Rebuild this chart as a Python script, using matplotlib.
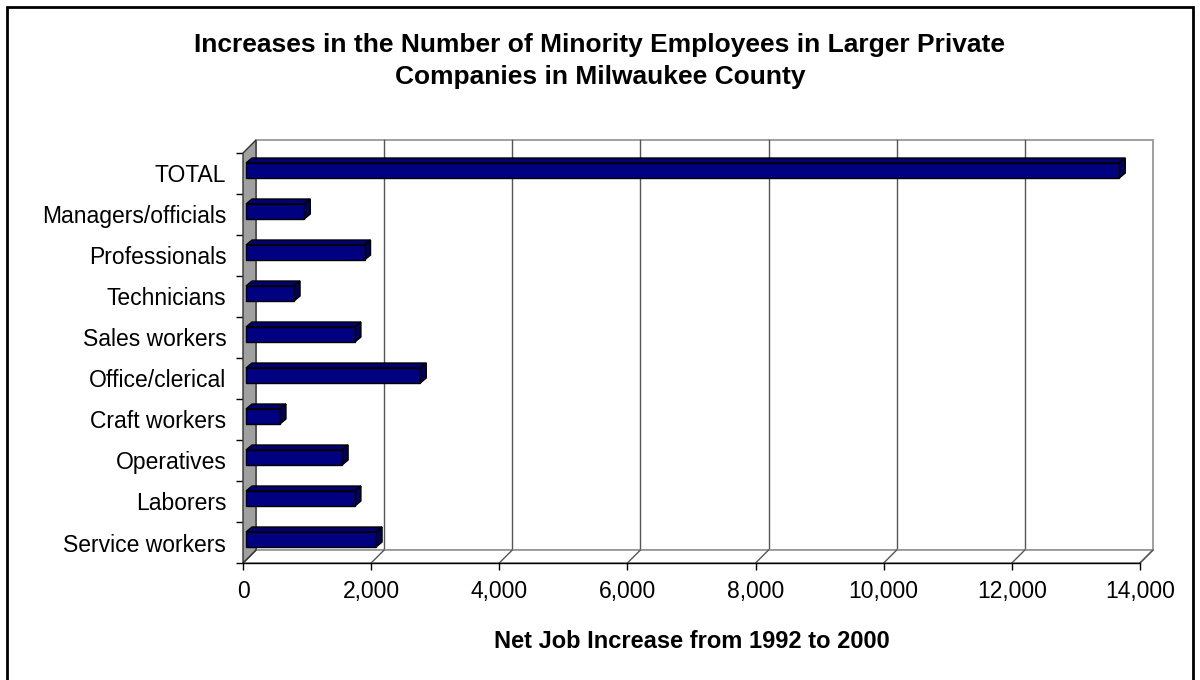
import matplotlib
matplotlib.use('Agg')
import matplotlib.pyplot as plt
from matplotlib.patches import Rectangle, Polygon

plt.rcParams['font.family'] = ['Liberation Sans', 'DejaVu Sans']

categories = ['Service workers', 'Laborers', 'Operatives', 'Craft workers',
              'Office/clerical', 'Sales workers', 'Technicians',
              'Professionals', 'Managers/officials', 'TOTAL']
increase = [2030, 1700, 1500, 530, 2720, 1700, 750, 1850, 910, 13630]
xticks = [0, 2000, 4000, 6000, 8000, 10000, 12000, 14000]
xticklabels = ['0', '2,000', '4,000', '6,000', '8,000', '10,000', '12,000', '14,000']

W, H = 1200, 680
fig = plt.figure(figsize=(W / 100, H / 100), dpi=100)

# front plane of the 3-D box, in pixels
left_px, right_px, top_px, bot_px = 243, 1140, 153, 563
ax = fig.add_axes([left_px / W, 1 - bot_px / H,
                   (right_px - left_px) / W, (bot_px - top_px) / H])
xmax = xticks[-1]
n = len(categories)
ax.set_xlim(0, xmax)
ax.set_ylim(-0.5, n - 0.5)

# pixel -> data unit conversions
ux = xmax / (right_px - left_px)
uy = n / (bot_px - top_px)

# wall depth offset
wx, wy = 13 * ux, 13 * uy
y0, y1 = -0.5, n - 0.5

# back wall
ax.add_patch(Rectangle((wx, y0 + wy), xmax, n, facecolor='white',
                       edgecolor='#999999', lw=1.3, clip_on=False, zorder=0))
for t in xticks[1:-1]:
    ax.plot([t + wx, t + wx], [y0 + wy, y1 + wy], color='#555555', lw=1,
            clip_on=False, zorder=1)
# floor
ax.add_patch(Polygon([(0, y0), (xmax, y0), (xmax + wx, y0 + wy), (wx, y0 + wy)],
                     closed=True, facecolor='white', edgecolor='#999999', lw=1.3,
                     clip_on=False, zorder=1))
for t in xticks:
    ax.plot([t, t + wx], [y0, y0 + wy], color='#555555', lw=1,
            clip_on=False, zorder=1)
# left side wall
ax.add_patch(Polygon([(0, y0), (wx, y0 + wy), (wx, y1 + wy), (0, y1)],
                     closed=True, facecolor='#a0a0a0', edgecolor='#333333', lw=1,
                     clip_on=False, zorder=2))
ax.plot([0, xmax], [y0, y0], color='black', lw=1, clip_on=False, zorder=2)

# bars: front face slightly into the box, plus top and side faces
bx, by = 3 * ux, 3 * uy
dx, dy = 6 * ux, 5 * uy
h = 15 * uy
pos = list(range(n))
ax.barh([p + by for p in pos], increase, left=bx, height=h, color='#000080',
        edgecolor='black', lw=1, zorder=4)
for p, v in zip(pos, increase):
    top = p + by + h / 2
    bot = p + by - h / 2
    ax.add_patch(Polygon([(bx, top), (v + bx, top), (v + bx + dx, top + dy),
                          (bx + dx, top + dy)], closed=True,
                         facecolor='#000070', edgecolor='black', lw=1, zorder=3))
    ax.add_patch(Polygon([(v + bx, bot), (v + bx + dx, bot + dy),
                          (v + bx + dx, top + dy), (v + bx, top)], closed=True,
                         facecolor='#000060', edgecolor='black', lw=1, zorder=3))

ax.set_facecolor('none')
for s in ['top', 'right', 'bottom', 'left']:
    ax.spines[s].set_visible(False)

ax.set_xticks(xticks)
ax.set_xticklabels(xticklabels, fontsize=16.5)
ax.tick_params(axis='x', length=5, width=1, pad=7, direction='out')
ax.set_yticks(pos)
ax.set_yticklabels(categories, fontsize=16.5)
ax.set_yticks([p - 0.5 for p in pos] + [n - 0.5], minor=True)
ax.tick_params(axis='y', which='major', length=0, pad=12)
ax.tick_params(axis='y', which='minor', length=5, width=1, direction='out')

ax.set_xlabel('Net Job Increase from 1992 to 2000', fontsize=17,
              fontweight='bold', labelpad=20)
fig.text(0.5, 1 - 61 / H,
         'Increases in the Number of Minority Employees in Larger Private\n'
         'Companies in Milwaukee County',
         ha='center', va='center', fontsize=19, fontweight='bold',
         linespacing=1.45)

# chart area border (runs off the bottom of the image)
fig.add_artist(Rectangle((7 / W, -20 / H), 1 - 14 / W, 1 + 13 / H,
                         transform=fig.transFigure, fill=False,
                         edgecolor='black', lw=2))

fig.savefig('out.png', dpi=100)
